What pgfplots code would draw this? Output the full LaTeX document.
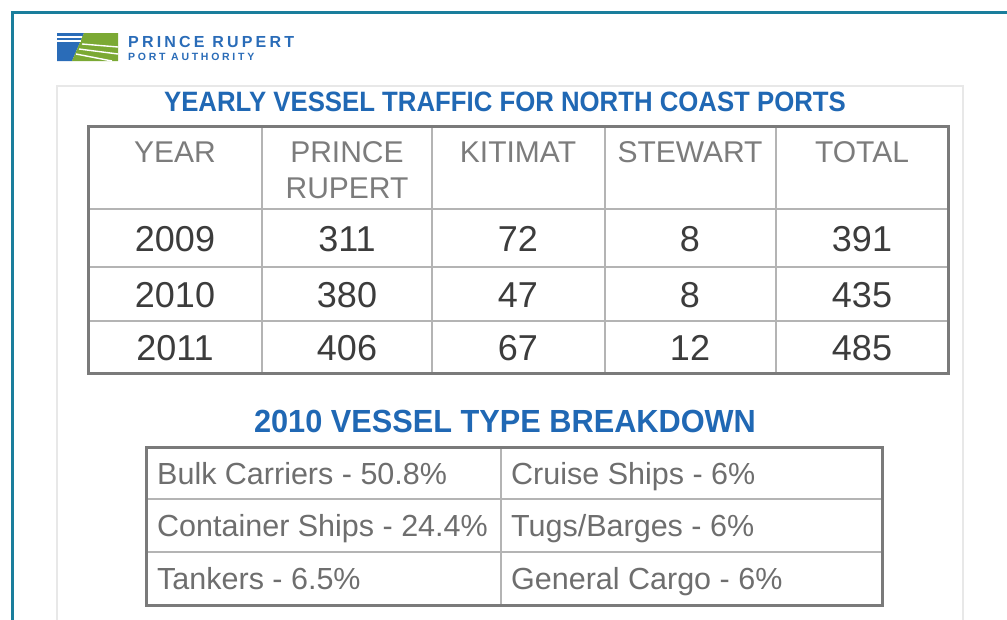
\documentclass[border=0pt]{standalone}
\usepackage{fontspec}
\setmainfont{Liberation Sans}
\newfontfamily\logofont[LetterSpace=20]{Liberation Sans Bold}
\newfontfamily\logofontb[LetterSpace=26]{Liberation Sans Bold}
\usepackage{graphicx}
\usepackage{pgfplots}
\usepackage{pgfplotstable}
\pgfplotsset{compat=1.18}
\definecolor{teal1}{HTML}{1A7E9C}
\definecolor{tblue}{HTML}{2068B4}
\definecolor{lblue}{HTML}{2A6CB8}
\definecolor{lgreen}{HTML}{7BA934}
\definecolor{frame}{HTML}{7A7A7A}
\definecolor{inner}{HTML}{B4B4B4}
\definecolor{hdr}{HTML}{7C7C7C}
\definecolor{dat}{HTML}{3C3C3C}
\definecolor{ttwo}{HTML}{6E6E6E}
\definecolor{panel}{HTML}{E8E8E8}

\pgfplotstableread[col sep=comma,row sep=\\]{
x,y,label\\
175,162,YEAR\\
347,162,PRINCE\\
347,198,RUPERT\\
518,162,KITIMAT\\
690,162,STEWART\\
862,162,TOTAL\\
}\hdrtbl

\pgfplotstableread[col sep=comma,row sep=\\]{
x,y,label\\
175,251,2009\\
347,251,311\\
518,251,72\\
690,251,8\\
862,251,391\\
175,307,2010\\
347,307,380\\
518,307,47\\
690,307,8\\
862,307,435\\
175,360,2011\\
347,360,406\\
518,360,67\\
690,360,12\\
862,360,485\\
}\dattbl

\pgfplotstableread[col sep=comma,row sep=\\]{
x,y,label\\
157,484,Bulk Carriers - 50.8\%\\
511,484,Cruise Ships - 6\%\\
157,536,Container Ships - 24.4\%\\
511,536,Tugs/Barges - 6\%\\
157,589,Tankers - 6.5\%\\
511,589,General Cargo - 6\%\\
}\typetbl

\begin{document}
\begin{tikzpicture}
\begin{axis}[
  at={(0,0)}, anchor=south west,
  width=1007pt, height=619pt, scale only axis,
  xmin=0, xmax=1007, ymin=0, ymax=619,
  y dir=reverse, hide axis, clip=true,
]
% background
\addplot[fill=white, draw=none] coordinates {(0,0) (1007,0) (1007,619) (0,619)} -- cycle;
% teal page border
\addplot[teal1, line width=3pt] coordinates {(12,640) (12,12) (1020,12)};
% light panel
\addplot[panel, line width=1.2pt] coordinates {(57,640) (57,86) (963,86) (963,640)};
% logo
\addplot[fill=lblue, draw=none] coordinates {(57,33) (84,33) (72,61) (57,61)} -- cycle;
\addplot[fill=lgreen, draw=none] coordinates {(84,33) (118,33) (118,61) (72,61)} -- cycle;
\addplot[white, line width=1.2pt] coordinates {(57,37) (82.3,37)};
\addplot[white, line width=1.2pt] coordinates {(57,41) (80.6,41)};
\addplot[white, line width=1.4pt] coordinates {(82,44) (118,47)};
\addplot[white, line width=1.4pt] coordinates {(79,49) (118,54)};
\addplot[white, line width=1.4pt] coordinates {(76,54) (112,61)};
% logo text
\addplot[mark=none, draw=none, nodes near coords, point meta=explicit symbolic,
  every node near coord/.append style={anchor=base west, inner sep=0pt, text=lblue, font=\logofont\fontsize{16}{16}\selectfont}]
  table[meta=label] {
x y label
128 47 {PRINCE RUPERT}
};
\addplot[mark=none, draw=none, nodes near coords, point meta=explicit symbolic,
  every node near coord/.append style={anchor=base west, inner sep=0pt, text=lblue, font=\logofontb\fontsize{10.5}{10.5}\selectfont}]
  table[meta=label] {
x y label
128 60 {PORT AUTHORITY}
};
% titles
\addplot[mark=none, draw=none, nodes near coords={\scalebox{0.92}[1]{\pgfplotspointmeta}}, point meta=explicit symbolic,
  every node near coord/.append style={anchor=base, inner sep=0pt, text=tblue, font=\bfseries\fontsize{28}{28}\selectfont}]
  table[meta=label] {
x y label
505 111 {YEARLY VESSEL TRAFFIC FOR NORTH COAST PORTS}
};
\addplot[mark=none, draw=none, nodes near coords={\scalebox{0.96}[1]{\pgfplotspointmeta}}, point meta=explicit symbolic,
  every node near coord/.append style={anchor=base, inner sep=0pt, text=tblue, font=\bfseries\fontsize{32}{32}\selectfont}]
  table[meta=label] {
x y label
505 432 {2010 VESSEL TYPE BREAKDOWN}
};
% table 1 grid
\addplot[inner, line width=1.2pt] coordinates {(88,209) (948,209)};
\addplot[inner, line width=1.2pt] coordinates {(88,267) (948,267)};
\addplot[inner, line width=1.2pt] coordinates {(88,321) (948,321)};
\addplot[inner, line width=1.2pt] coordinates {(262,126) (262,373)};
\addplot[inner, line width=1.2pt] coordinates {(432,126) (432,373)};
\addplot[inner, line width=1.2pt] coordinates {(605,126) (605,373)};
\addplot[inner, line width=1.2pt] coordinates {(776,126) (776,373)};
\addplot[frame, line width=3pt, line join=miter] coordinates {(88,126) (948,126) (948,373) (88,373)} -- cycle;
% table 2 grid
\addplot[inner, line width=1.2pt] coordinates {(146,499) (882,499)};
\addplot[inner, line width=1.2pt] coordinates {(146,552) (882,552)};
\addplot[inner, line width=1.2pt] coordinates {(501,447) (501,605)};
\addplot[frame, line width=3pt, line join=miter] coordinates {(146,447) (882,447) (882,605) (146,605)} -- cycle;
% table 1 text
\addplot[mark=none, draw=none, nodes near coords, point meta=explicit symbolic,
  every node near coord/.append style={anchor=base, inner sep=0pt, text=hdr, font=\fontsize{30}{30}\selectfont}]
  table[meta=label] {\hdrtbl};
\addplot[mark=none, draw=none, nodes near coords, point meta=explicit symbolic,
  every node near coord/.append style={anchor=base, inner sep=0pt, text=dat, font=\fontsize{36}{36}\selectfont}]
  table[meta=label] {\dattbl};
% table 2 text
\addplot[mark=none, draw=none, nodes near coords, point meta=explicit symbolic,
  every node near coord/.append style={anchor=base west, inner sep=0pt, text=ttwo, font=\fontsize{30.5}{30.5}\selectfont}]
  table[meta=label] {\typetbl};
\end{axis}
\end{tikzpicture}
\end{document}
